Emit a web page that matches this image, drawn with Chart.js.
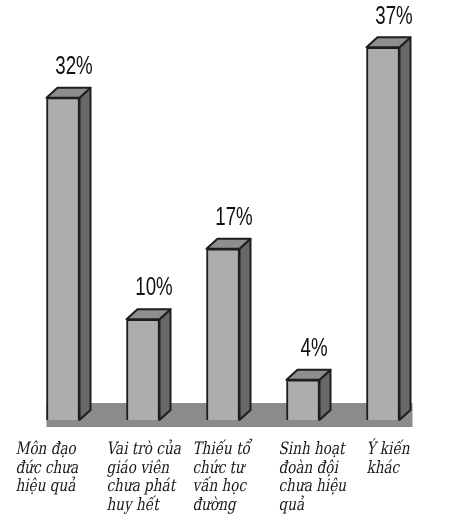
<!DOCTYPE html>
<html>
<head>
<meta charset="utf-8">
<script src="https://cdn.jsdelivr.net/npm/chart.js"></script>
<style>
  html, body { margin: 0; padding: 0; background: #fff; }
  #wrap { width: 450px; height: 532px; position: relative; }
</style>
</head>
<body>
<div id="wrap"><canvas id="myChart"></canvas></div>
<script>
// dữ liệu
var categories = [
    ['Môn đạo', 'đức chưa', 'hiệu quả'],
    ['Vai trò của', 'giáo viên', 'chưa phát', 'huy hết'],
    ['Thiếu tổ', 'chức tư', 'vấn học', 'đường'],
    ['Sinh hoạt', 'đoàn đội', 'chưa hiệu', 'quả'],
    ['Ý kiến', 'khác']
];
var values = [32, 10, 17, 4, 37];
var valueLabels = ['32%', '10%', '17%', '4%', '37%'];

// so le nhan (px, tinh tu canh trai cot)
var labelShift = [-31, -20, -14, -8, 0];

var depthX = 11;
var depthY = 10;

const hieuUng3D = {
    id: 'hieuUng3D',
    beforeDatasetsDraw(chart) {
        const ctx = chart.ctx;
        const bars = chart.getDatasetMeta(0).data;
        const first = bars[0];
        const last = bars[bars.length - 1];
        const left = first.x - first.width / 2;
        const right = last.x + last.width / 2 + depthX + 2;
        ctx.save();
        ctx.fillStyle = '#8b8b8b';
        ctx.fillRect(left, first.base - 17, right - left, 24);
        ctx.restore();
    },
    afterDatasetsDraw(chart) {
        const ctx = chart.ctx;
        const bars = chart.getDatasetMeta(0).data;
        ctx.save();
        ctx.lineWidth = 2;
        ctx.lineJoin = 'round';
        ctx.strokeStyle = '#1e1e1e';
        bars.forEach(function (b, i) {
            const l = b.x - b.width / 2;
            const r = b.x + b.width / 2;
            const t = b.y;
            const bot = b.base;
            // mat ben
            ctx.beginPath();
            ctx.moveTo(r, t);
            ctx.lineTo(r + depthX, t - depthY);
            ctx.lineTo(r + depthX, bot - depthY);
            ctx.lineTo(r, bot);
            ctx.closePath();
            ctx.fillStyle = '#686868';
            ctx.fill();
            ctx.stroke();
            // mat tren
            ctx.beginPath();
            ctx.moveTo(l, t);
            ctx.lineTo(l + depthX, t - depthY);
            ctx.lineTo(r + depthX, t - depthY);
            ctx.lineTo(r, t);
            ctx.closePath();
            ctx.fillStyle = '#8e8e8e';
            ctx.fill();
            ctx.stroke();

            // phan tram
            ctx.save();
            ctx.fillStyle = '#111';
            ctx.font = '26px "Liberation Sans", Arial, sans-serif';
            ctx.textAlign = 'center';
            ctx.textBaseline = 'middle';
            ctx.translate(b.x + 11, t - 31);
            ctx.scale(0.72, 1);
            ctx.fillText(valueLabels[i], 0, 0);
            ctx.restore();
        });
        ctx.restore();
    },
    afterDraw(chart) {
        const ctx = chart.ctx;
        const bars = chart.getDatasetMeta(0).data;
        ctx.save();
        ctx.fillStyle = '#151515';
        ctx.font = '17px "DejaVu Serif", serif';
        ctx.textAlign = 'left';
        ctx.textBaseline = 'alphabetic';
        bars.forEach(function (b, i) {
            const x = b.x - b.width / 2 + labelShift[i];
            categories[i].forEach(function (line, k) {
                ctx.save();
                ctx.translate(x, b.base + 34 + k * 18.7);
                // nghieng chu (italic)
                ctx.transform(0.8, 0, -0.2, 1, 0, 0);
                ctx.fillText(line, 0, 0);
                ctx.restore();
            });
        });
        ctx.restore();
    }
};

const config = {
    type: 'bar',
    data: {
        labels: categories,
        datasets: [{
            data: values,
            backgroundColor: '#adadad',
            borderColor: '#1e1e1e',
            borderWidth: 2,
            barThickness: 33
        }]
    },
    options: {
        responsive: true,
        maintainAspectRatio: false,
        animation: false,
        layout: {
            padding: { left: 23, right: 27, top: 0, bottom: 112 }
        },
        plugins: {
            legend: { display: false },
            tooltip: { enabled: false }
        },
        scales: {
            x: { display: false },
            y: { display: false, min: 0, max: 41.7 }
        }
    },
    plugins: [hieuUng3D]
};

const myChart = new Chart(document.getElementById('myChart'), config);
</script>
</body>
</html>
